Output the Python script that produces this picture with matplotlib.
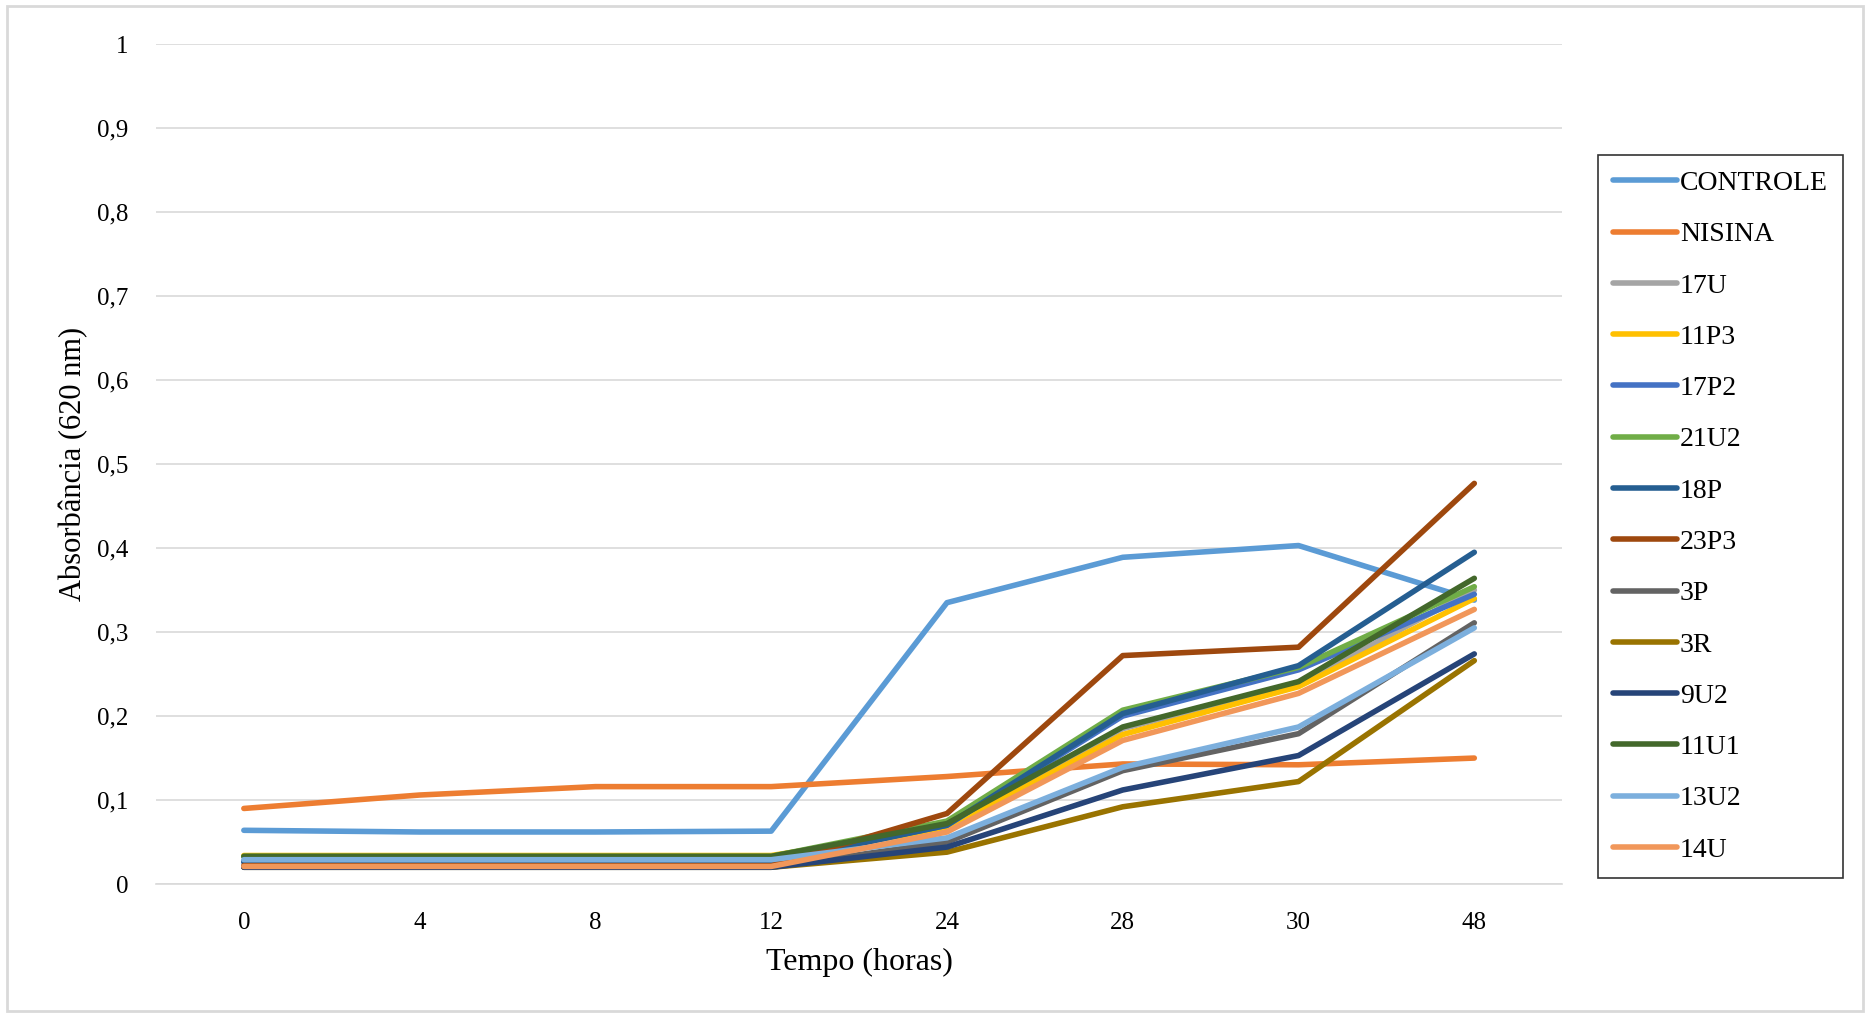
import matplotlib.pyplot as plt
from matplotlib.ticker import FixedLocator, FuncFormatter

plt.rcParams['font.family'] = ['Liberation Serif', 'DejaVu Serif']

tempos = ["0", "4", "8", "12", "24", "28", "30", "48"]

controle = [0.064, 0.062, 0.062, 0.063, 0.335, 0.389, 0.403, 0.338]
nisina = [0.090, 0.106, 0.116, 0.116, 0.128, 0.143, 0.142, 0.150]
u17 = [0.028, 0.028, 0.028, 0.028, 0.068, 0.185, 0.238, 0.350]
p11_3 = [0.034, 0.034, 0.034, 0.034, 0.066, 0.178, 0.235, 0.340]
p17_2 = [0.027, 0.027, 0.027, 0.027, 0.070, 0.200, 0.255, 0.345]
u21_2 = [0.033, 0.033, 0.033, 0.033, 0.075, 0.207, 0.258, 0.354]
p18 = [0.026, 0.026, 0.026, 0.026, 0.070, 0.203, 0.260, 0.395]
p23_3 = [0.022, 0.022, 0.022, 0.022, 0.084, 0.272, 0.282, 0.477]
p3 = [0.020, 0.020, 0.020, 0.020, 0.050, 0.135, 0.179, 0.311]
r3 = [0.020, 0.020, 0.020, 0.020, 0.038, 0.092, 0.122, 0.266]
u9_2 = [0.020, 0.020, 0.020, 0.020, 0.044, 0.112, 0.153, 0.274]
u11_1 = [0.033, 0.033, 0.033, 0.033, 0.072, 0.187, 0.241, 0.364]
u13_2 = [0.029, 0.029, 0.029, 0.029, 0.055, 0.139, 0.187, 0.305]
u14 = [0.021, 0.021, 0.021, 0.021, 0.062, 0.171, 0.227, 0.327]

series = [
    ("CONTROLE", controle, "#5B9BD5"),
    ("NISINA", nisina, "#ED7D31"),
    ("17U", u17, "#A5A5A5"),
    ("11P3", p11_3, "#FFC000"),
    ("17P2", p17_2, "#4472C4"),
    ("21U2", u21_2, "#70AD47"),
    ("18P", p18, "#255E91"),
    ("23P3", p23_3, "#9E480E"),
    ("3P", p3, "#636363"),
    ("3R", r3, "#997300"),
    ("9U2", u9_2, "#264478"),
    ("11U1", u11_1, "#43682B"),
    ("13U2", u13_2, "#7CAFDD"),
    ("14U", u14, "#F1975A"),
]

fig = plt.figure(figsize=(18.7, 10.15), dpi=100)
ax = fig.add_axes([0.0834, 0.129, 0.752, 0.8276])

x = list(range(len(tempos)))
for name, vals, col in series:
    ax.plot(x, vals, color=col, linewidth=4, label=name, solid_capstyle="round")

ax.set_xlim(-0.5, len(tempos) - 0.5)
ax.set_ylim(0, 1)
ax.set_xticks(x)
ax.set_xticklabels(tempos, fontsize=18)
ax.yaxis.set_major_locator(FixedLocator([i / 10 for i in range(11)]))
ax.yaxis.set_major_formatter(FuncFormatter(lambda v, p: ("%g" % round(v, 1)).replace(".", ",")))
ax.tick_params(axis="y", labelsize=18, length=0, pad=20)
ax.tick_params(axis="x", length=0, pad=20)
ax.grid(axis="y", color="#d9d9d9", linewidth=1.2)
ax.set_axisbelow(True)
for s in ["top", "right", "left"]:
    ax.spines[s].set_visible(False)
ax.spines["bottom"].set_color("#d9d9d9")
ax.spines["bottom"].set_linewidth(1.2)

ax.set_xlabel("Tempo (horas)", fontsize=23, labelpad=10)
ax.set_ylabel("Absorbância (620 nm)", fontsize=22, labelpad=6)

leg = fig.legend(loc="upper left", bbox_to_anchor=(0.8545, 0.847), borderaxespad=0,
                 fontsize=20, frameon=True, fancybox=False, edgecolor="black",
                 handlelength=2.3, labelspacing=0.93, borderpad=0.55, handletextpad=0.1)
leg.get_frame().set_linewidth(1.2)

fig.patches.append(plt.Rectangle((0.004, 0.004), 0.992, 0.99, transform=fig.transFigure,
                                 fill=False, edgecolor="#d9d9d9", linewidth=2))

fig.savefig("out.png", dpi=100)
